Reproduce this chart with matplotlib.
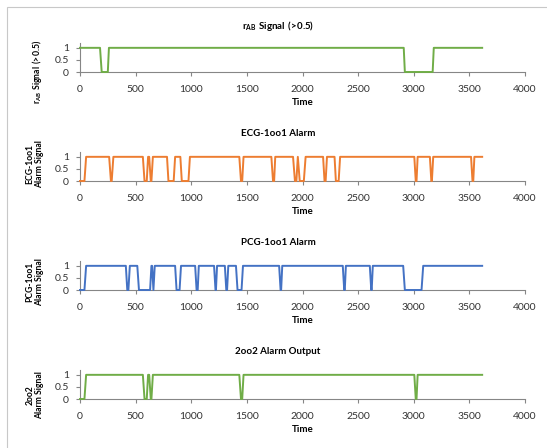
import matplotlib.pyplot as plt
from matplotlib.patches import Rectangle

plt.rcParams['font.family'] = ['Lato', 'DejaVu Sans']
plt.rcParams['mathtext.fontset'] = 'custom'
plt.rcParams['mathtext.rm'] = 'Lato:bold'
plt.rcParams['mathtext.bf'] = 'Lato:bold'

# signal samples (time, value)
rab_t = [0, 180, 195, 250, 260, 2910, 2920, 3170, 3180, 3615]
rab_v = [1, 1, 0, 0, 1, 1, 0, 0, 1, 1]

ecg_t = [0, 40, 55, 262, 278, 285, 300, 565, 580, 600, 612, 622, 636, 642, 655,
         782, 795, 842, 855, 902, 915, 975, 988, 1432, 1447, 1458, 1470,
         1720, 1735, 1745, 1755, 1915, 1932, 1945, 1958, 1975, 2012, 2028,
         2185, 2198, 2208, 2220, 2288, 2300, 2325, 2338, 3005, 3018, 3025, 3035,
         3145, 3158, 3163, 3175, 3515, 3528, 3535, 3545, 3615]
ecg_v = [0, 0, 1, 1, 0, 0, 1, 1, 0, 0, 1, 1, 0, 0, 1,
         1, 0, 0, 1, 1, 0, 0, 1, 1, 0, 0, 1,
         1, 0, 0, 1, 1, 0, 0, 1, 0, 0, 1,
         1, 0, 0, 1, 1, 0, 0, 1, 1, 0, 0, 1,
         1, 0, 0, 1, 1, 0, 0, 1, 1]

pcg_t = [0, 40, 55, 412, 425, 435, 448, 515, 530, 630, 642, 648, 660, 672,
         855, 868, 895, 908, 1035, 1048, 1058, 1068, 1205, 1218, 1222, 1232,
         1302, 1315, 1322, 1333, 1402, 1416, 1452, 1465, 1790, 1803, 1808, 1818,
         2362, 2375, 2380, 2390, 2605, 2618, 2622, 2632, 2905, 2920, 3070, 3085, 3615]
pcg_v = [0, 0, 1, 1, 0, 0, 1, 1, 0, 0, 1, 1, 0, 1,
         1, 0, 0, 1, 1, 0, 0, 1, 1, 0, 0, 1,
         1, 0, 0, 1, 1, 0, 0, 1, 1, 0, 0, 1,
         1, 0, 0, 1, 1, 0, 0, 1, 1, 0, 0, 1, 1]

out_t = [0, 40, 55, 565, 580, 600, 612, 622, 636, 642, 655,
         1432, 1447, 1458, 1470, 3005, 3018, 3025, 3035, 3615]
out_v = [0, 0, 1, 1, 0, 0, 1, 1, 0, 0, 1,
         1, 0, 0, 1, 1, 0, 0, 1, 1]

rab_label = r'$\mathrm{r_{AB}\ Signal\ (\!>\!0.5)}$'
panels = [
    (rab_t, rab_v, '#70ad47', rab_label, rab_label, 0.0),
    (ecg_t, ecg_v, '#ed7d31', 'ECG-1oo1 Alarm', 'ECG-1oo1\nAlarm Signal', 0.6),
    (pcg_t, pcg_v, '#4472c4', 'PCG-1oo1 Alarm', 'PCG-1oo1\nAlarm Signal', 0.28),
    (out_t, out_v, '#70ad47', '2oo2 Alarm Output', '2oo2\nAlarm Signal', 0.14),
]

W, H = 547, 448
fig = plt.figure(figsize=(W / 100, H / 100), dpi=100)

# light chart-area border like the spreadsheet export
fig.patches.append(Rectangle((7 / W, -0.05), 1.1, 1 - 7 / H + 0.05,
                             transform=fig.transFigure, fill=False,
                             edgecolor='#c8c8c8', lw=0.8))

zero_px = [72, 181, 290, 399]
title_px = [26, 133, 242, 351]

for (t, v, col, title, ylab, ly), zp, tp in zip(panels, zero_px, title_px):
    ax = fig.add_axes([80 / W, 1 - zp / H, 445 / W, 29 / H])
    ax.plot(t, v, color=col, lw=1.4, clip_on=False, zorder=3)
    ax.set_xlim(0, 4000)
    ax.set_ylim(0, 1.2)
    ax.set_xticks(range(0, 4001, 500))
    ax.set_yticks([0, 0.5, 1])
    ax.set_yticklabels(['0', '0.5', '1'])
    for s in ['top', 'right']:
        ax.spines[s].set_visible(False)
    for s in ['left', 'bottom']:
        ax.spines[s].set_color('#868686')
        ax.spines[s].set_linewidth(0.8)
    ax.tick_params(axis='both', colors='#868686', labelcolor='#333333',
                   labelsize=7.5, length=3, width=0.8)
    ax.tick_params(axis='x', pad=6)
    ax.tick_params(axis='y', pad=5)
    ax.set_xlabel('Time', fontsize=7, fontweight='bold', labelpad=3)
    ax.set_ylabel(ylab, fontsize=6.2, fontweight='bold', linespacing=1.15)
    ax.yaxis.set_label_coords(-0.08, ly)
    fig.text(278 / W, 1 - tp / H, title, ha='center', va='center',
             fontsize=7, fontweight='bold')

fig.savefig('out.png', dpi=100)
